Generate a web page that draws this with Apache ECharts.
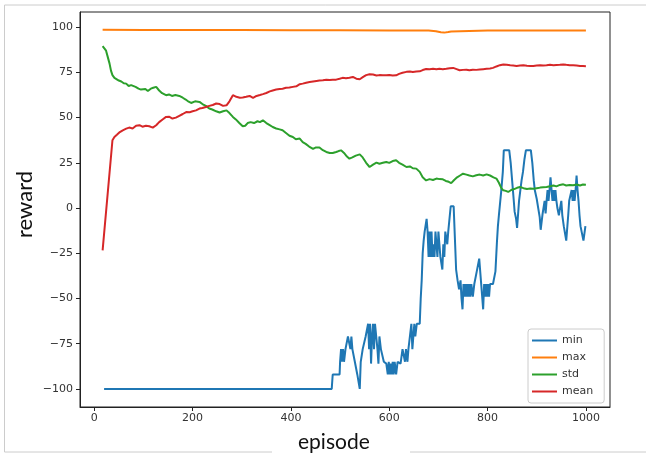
<!DOCTYPE html>
<html>
<head>
<meta charset="utf-8">
<script src="https://cdn.jsdelivr.net/npm/echarts@6/dist/echarts.min.js"></script>
<style>
  html, body { margin: 0; padding: 0; background: #fff; }
  #chart { width: 646px; height: 454px; }
</style>
</head>
<body>
<div id="chart"></div>
<script>
// tick values on the two axes
const xTicks = [0, 200, 400, 600, 800, 1000];
const yTicks = [-100, -75, -50, -25, 0, 25, 50, 75, 100];
const seriesNames = ['min', 'max', 'std', 'mean'];

// [episode, reward]
const minData = [
    [20,-100],[483,-100],[485,-92],[499,-92],[500,-85],[502,-78],[504,-85],[506,-78],[508,-85],[511,-78],[514,-78],[516,-71],[519,-71],[521,-78],[523,-71],[525,-78],[528,-78],[530,-85],[533,-85],[535,-92],[538,-92],[540,-100],[542,-85],[546,-78],[550,-78],[552,-71],[555,-71],[557,-64],[559,-78],[561,-64],[563,-86],[565,-71],[567,-64],[569,-78],[571,-64],[574,-64],[576,-78],[578,-86],[580,-71],[583,-78],[586,-78],[589,-85],[592,-85],[594,-86],[597,-92],[599,-85],[601,-92],[603,-86],[605,-92],[607,-85],[609,-92],[611,-85],[614,-92],[617,-85],[620,-85],[623,-86],[625,-85],[627,-78],[630,-78],[632,-85],[634,-78],[637,-85],[639,-78],[642,-78],[645,-64],[647,-78],[649,-71],[651,-64],[653,-71],[656,-64],[662,-64],[664,-50],[666,-40],[668,-25],[670,-18],[672,-13],[674,-13],[676,-6],[678,-13],[680,-27],[682,-13],[684,-27],[686,-13],[688,-27],[690,-20],[692,-27],[694,-13],[696,-13],[698,-27],[700,-13],[702,-13],[704,-27],[706,-27],[708,-34],[710,-20],[712,-27],[714,-13],[716,-13],[718,-20],[720,-13],[722,-13],[725,1],[731,1],[734,-20],[736,-34],[739,-40],[742,-45],[745,-40],[747,-50],[749,-56],[751,-42],[753,-49],[755,-42],[757,-49],[759,-42],[761,-49],[763,-42],[765,-49],[767,-42],[770,-49],[773,-42],[776,-42],[778,-35],[781,-35],[783,-28],[785,-35],[787,-42],[789,-49],[791,-56],[793,-42],[795,-49],[797,-42],[799,-49],[801,-42],[803,-49],[805,-42],[808,-42],[811,-42],[814,-42],[816,-35],[819,-19],[821,-10],[823,-4],[825,-4],[828,10],[831,20],[833,32],[844,32],[847,25],[850,15],[853,5],[855,-2],[858,-6],[860,-11],[862,-11],[864,4],[866,4],[869,15],[872,20],[875,27],[878,32],[888,32],[891,25],[894,15],[896,10],[900,5],[903,0],[906,-5],[908,-12],[910,-12],[912,-3],[914,-3],[916,4],[918,-3],[920,4],[922,10],[924,4],[926,10],[928,17],[930,17],[932,4],[934,10],[936,4],[938,10],[940,4],[942,0],[945,-4],[947,-4],[950,4],[952,-4],[955,-10],[958,-10],[960,-18],[962,-18],[964,-4],[966,4],[968,4],[971,10],[973,4],[975,10],[977,4],[979,10],[981,18],[983,10],[985,4],[987,-4],[989,-10],[991,-10],[993,-10],[995,-18],[997,-18],[999,-10],[1000,-10]
];

const maxData = [
    [17,98.6],[100,98.5],[200,98.5],[300,98.4],[400,98.3],[500,98.3],[600,98.2],[680,98.2],[695,97.8],[705,97.2],[712,97.0],[720,97.3],[726,97.6],[730,98.2],[800,98.2],[900,98.2],[1000,98.2]
];

const stdData = [
    [17,89.5],[20,88.5],[24,87],[27,84],[31,80],[34,76],[37,73.5],[41,72],[44,71.2],[50,70.5],[55,70],[60,69],[65,68.8],[70,67.5],[75,68],[78,67.3],[84,67],[90,66],[95,65.5],[98,65.1],[104,65.8],[109,64.7],[115,66],[120,66.5],[126,67],[132,65],[138,63.5],[146,62.4],[152,62.8],[158,62],[165,62.5],[173,62],[180,61],[186,60],[192,58.8],[197,58.1],[205,59],[214,58.7],[220,57.5],[227,56.5],[234,55],[240,54.5],[248,53.5],[255,52.8],[262,53.5],[269,54],[275,52.5],[282,50.4],[288,49],[295,47],[302,45.2],[307,45.5],[312,47],[318,47.5],[325,47],[332,48],[337,47.5],[343,48.5],[350,47],[356,46],[363,44.8],[370,44],[377,43.5],[383,43],[390,41.5],[397,40],[404,39.3],[410,38],[418,38.4],[424,36.5],[430,35.5],[437,34],[445,32.7],[451,33.5],[458,33.5],[465,32],[472,31],[479,30.4],[485,30.4],[492,31],[497,31.5],[502,31.9],[508,30.5],[514,28.5],[519,27.3],[525,28],[532,29],[540,29.7],[546,28],[553,25],[560,22.7],[567,24],[574,25.1],[580,24.5],[587,25],[594,25.5],[600,25],[607,26],[614,26.4],[620,25],[627,24],[635,22.7],[642,23],[648,22],[655,21.8],[662,20],[668,17],[675,15.3],[682,16],[689,15.5],[696,16.3],[702,16],[709,15.9],[715,15],[721,14.5],[726,13.8],[732,15.5],[738,17],[744,18],[750,19],[757,18.5],[763,18],[770,17.5],[777,18.1],[784,18.5],[791,18],[798,18.6],[805,18],[812,17],[818,16.3],[823,14],[828,11],[832,9.8],[837,9.5],[842,8.9],[848,10],[854,10.5],[860,11.2],[866,11.6],[873,11],[880,10.5],[887,10.8],[893,10.7],[900,11],[907,11.3],[913,11.5],[920,11.6],[927,12],[934,12.5],[940,12],[947,12.8],[954,13.1],[960,12.5],[967,12.8],[974,12.6],[981,13],[988,12.5],[994,13],[1000,12.9]
];

const meanData = [
    [17,-23.4],[37,37.5],[41,39.3],[46,40.5],[52,42],[58,43],[65,43.9],[71,44.5],[78,44],[85,45.5],[92,45.8],[98,45],[105,45.5],[112,45.2],[119,44.5],[126,45.8],[132,47.5],[139,49],[146,50.4],[152,50.5],[159,49.5],[166,50],[173,51],[180,52],[187,53.1],[194,53],[200,53.5],[207,54],[214,55],[220,55.3],[227,55.9],[234,56.5],[241,57],[248,57.8],[255,57.5],[262,56.5],[269,56.8],[275,59],[282,62.4],[289,61.5],[296,61],[302,61.1],[309,61.5],[316,62],[323,60.9],[330,62],[337,62.5],[343,63],[350,63.6],[357,64.5],[363,65],[370,65.5],[377,65.8],[383,66],[390,66.5],[397,66.6],[404,67],[411,67.3],[418,68.5],[424,68.8],[431,69.3],[438,69.7],[445,70],[452,70.3],[458,70.5],[465,70.7],[472,71],[479,70.8],[485,71],[492,71],[499,71.5],[505,72],[512,71.8],[519,72.1],[526,72.5],[533,71.5],[540,71.2],[547,72.5],[553,73.5],[560,74],[567,73.8],[574,73.3],[580,73.5],[587,73.4],[594,73.4],[600,73.6],[607,73.3],[614,73.4],[620,74.2],[627,74.8],[635,75.3],[642,75.5],[648,75.2],[655,75.5],[662,75.6],[668,76.3],[675,76.9],[682,76.8],[689,77],[696,76.7],[702,77],[709,76.8],[716,77],[723,77.3],[730,77.5],[737,76.8],[743,76.2],[750,76.4],[757,76.5],[763,76.2],[770,76.5],[777,76.4],[784,76.6],[791,76.8],[798,77],[805,77.2],[811,77.5],[818,78.3],[825,79],[832,79.4],[839,79.2],[846,78.9],[852,78.8],[859,78.6],[866,78.8],[873,78.9],[880,78.7],[887,78.6],[893,78.6],[900,78.8],[907,79],[913,78.8],[920,78.9],[927,79.2],[934,79],[940,79.1],[947,79.2],[954,79.4],[960,79.2],[967,79],[974,78.9],[981,78.8],[988,78.6],[994,78.5],[1000,78.4]
];

const colors = ['#1f77b4', '#ff7f0e', '#2ca02c', '#d62728'];
const allData = [minData, maxData, stdData, meanData];

const chart = echarts.init(document.getElementById('chart'), null, { renderer: 'canvas' });

const tickFont = { fontFamily: 'DejaVu Sans', fontSize: 11, color: '#333' };
// matplotlib style: no thousands separator, real minus sign
const tickText = v => String(v).replace('-', '\u2212');

chart.setOption({
    animation: false,
    grid: {
        left: 80, top: 12, right: 36, bottom: 47,
        show: true, borderColor: '#222', borderWidth: 1, backgroundColor: '#fff'
    },
    xAxis: {
        type: 'value', min: -29, max: 1049,
        splitLine: { show: false },
        axisLine: { show: true, onZero: false, lineStyle: { color: '#222', width: 1 } },
        axisTick: { show: true, length: 4, lineStyle: { color: '#222' }, customValues: xTicks },
        axisLabel: Object.assign({ margin: 6, customValues: xTicks, formatter: tickText }, tickFont)
    },
    yAxis: {
        type: 'value', min: -110, max: 108.4,
        splitLine: { show: false },
        axisLine: { show: true, onZero: false, lineStyle: { color: '#222', width: 1 } },
        axisTick: { show: true, length: 4, lineStyle: { color: '#222' }, customValues: yTicks },
        axisLabel: Object.assign({ margin: 7, customValues: yTicks, formatter: tickText }, tickFont)
    },
    legend: {
        orient: 'vertical',
        left: 528, top: 329,
        padding: [5, 11, 5, 4],
        itemGap: 4,
        itemWidth: 25, itemHeight: 2,
        icon: 'rect',
        borderColor: '#ccc', borderWidth: 1, borderRadius: 3,
        backgroundColor: '#fff',
        textStyle: { fontFamily: 'DejaVu Sans', fontSize: 11, color: '#333', lineHeight: 13 },
        data: seriesNames
    },
    graphic: [
        { type: 'text', left: 298, top: 432,
          style: { text: 'episode', fontFamily: 'Lato', fontSize: 21, fill: '#111' } },
        { type: 'text', x: 14, y: 238, rotation: Math.PI / 2,
          style: { text: 'reward', fontFamily: 'Lato', fontSize: 22, fill: '#111', textVerticalAlign: 'top' } },
        { type: 'polyline', shape: { points: [[646, 5], [4.5, 5], [4.5, 452], [272, 452]] },
          style: { stroke: '#ccc', lineWidth: 1, fill: null } },
        { type: 'line', shape: { x1: 410, y1: 452, x2: 646, y2: 452 },
          style: { stroke: '#ccc', lineWidth: 1 } }
    ],
    series: seriesNames.map((name, i) => ({
        name: name,
        type: 'line',
        data: allData[i],
        showSymbol: false,
        color: colors[i],
        lineStyle: { width: 2, color: colors[i] },
        z: 2 + i
    }))
});
</script>
</body>
</html>
